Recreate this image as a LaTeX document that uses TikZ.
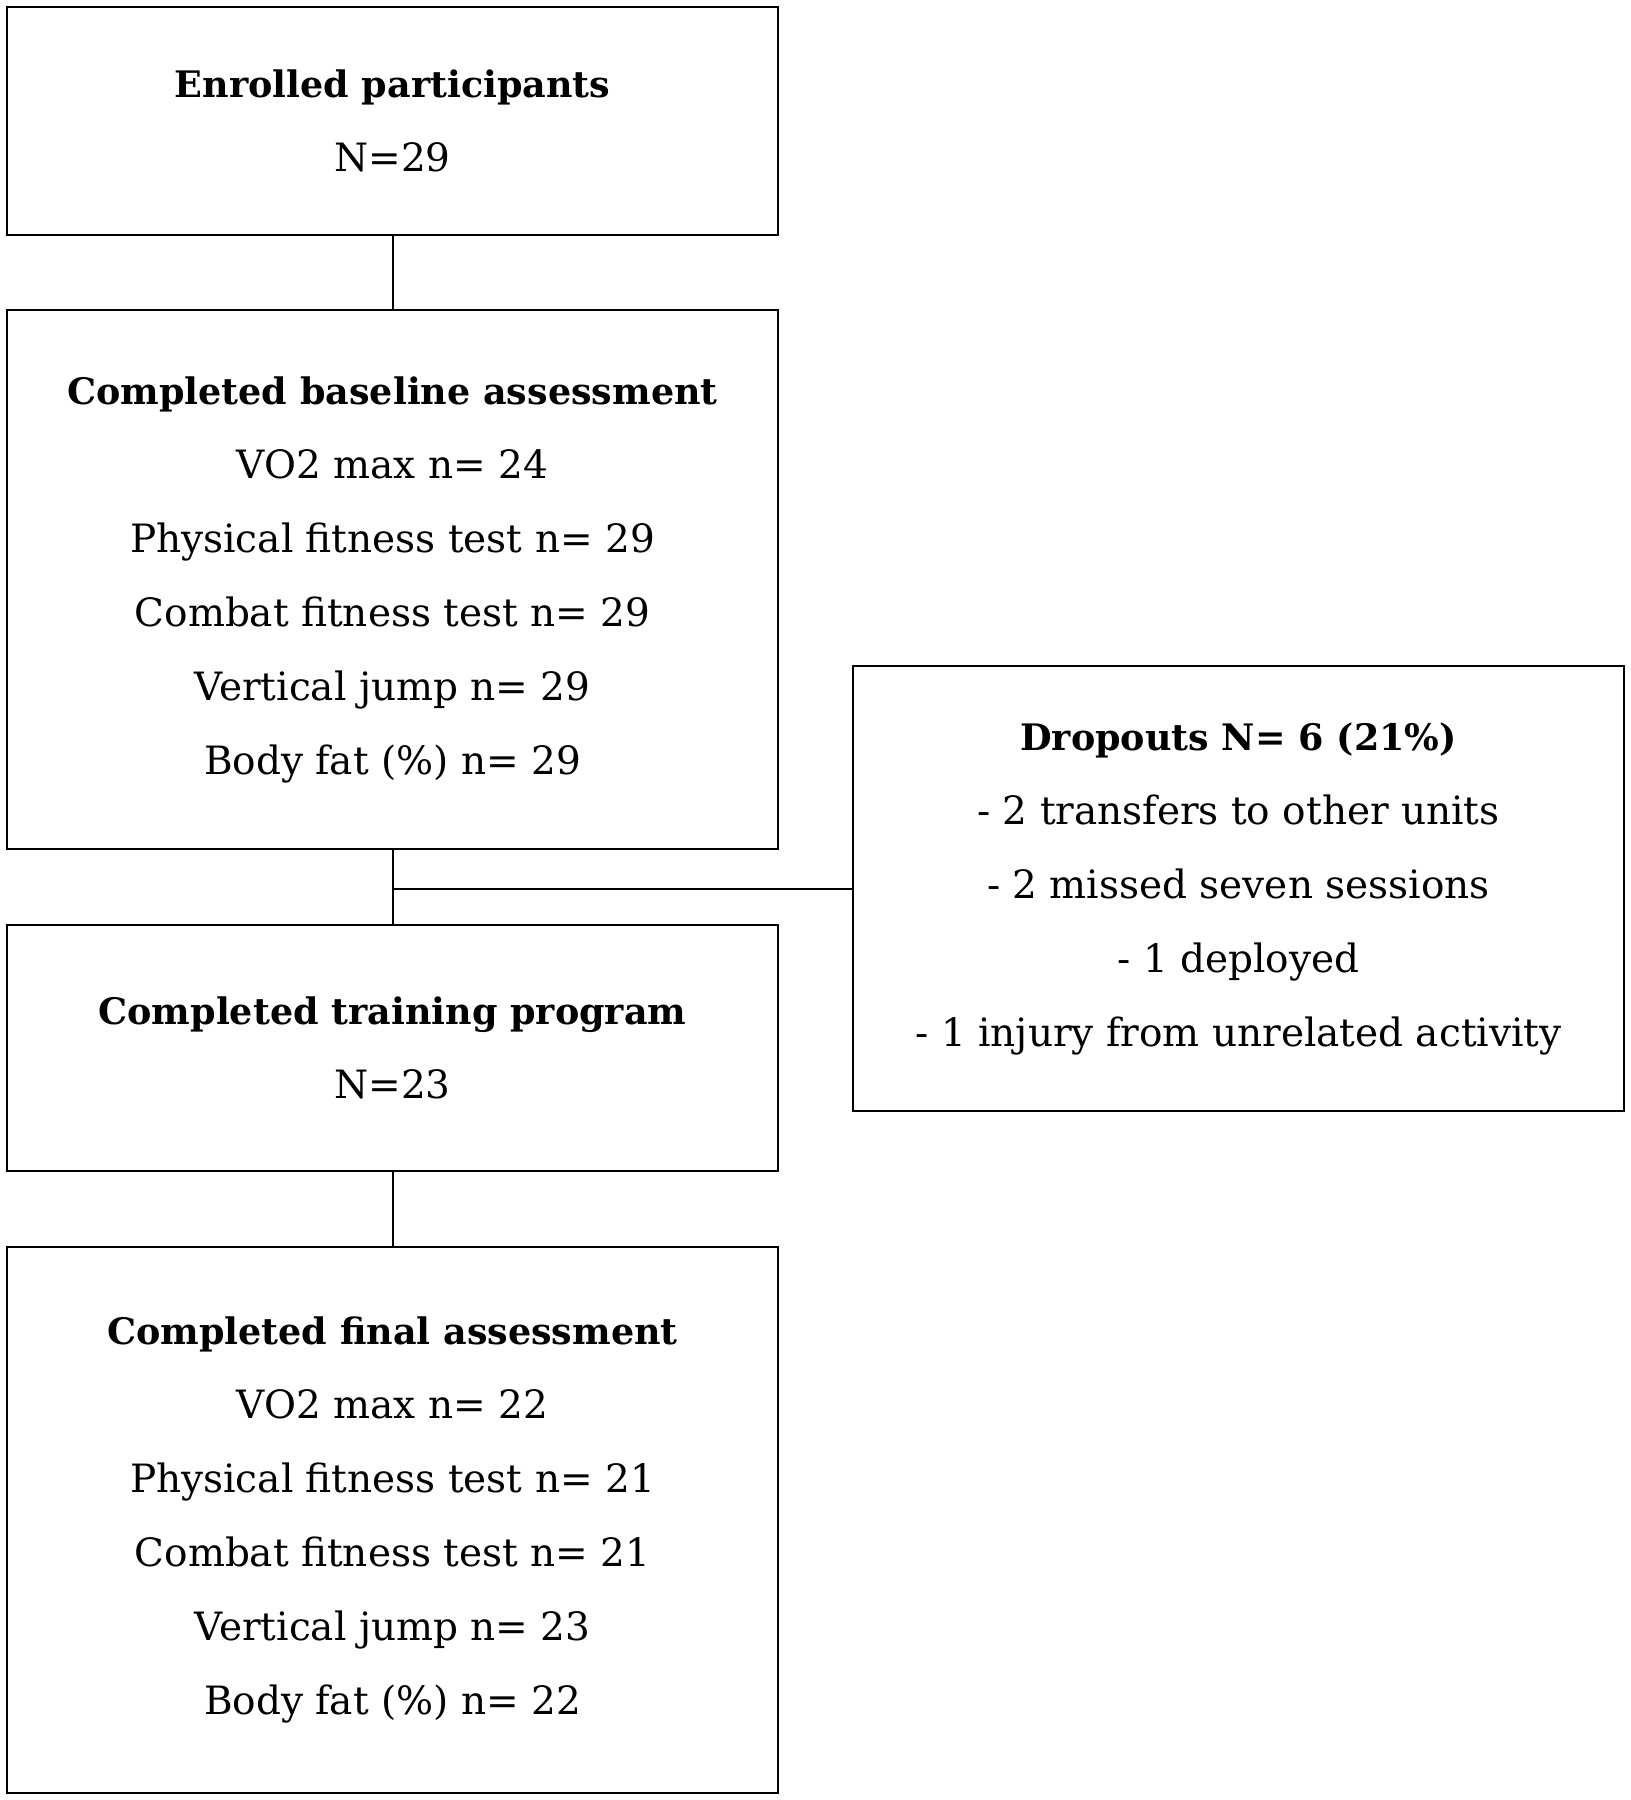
\documentclass[tikz,border=0pt]{standalone}
\usepackage{fontspec}
\setmainfont{DejaVu Serif}
\newcommand{\hd}[1]{{\fontsize{36.5}{74}\selectfont\bfseries #1}}
\begin{document}
\begin{tikzpicture}[x=1pt,y=-1pt,
  box/.style={draw, line width=2pt, minimum width=771pt, align=center, inner sep=0pt,
    font=\fontsize{39}{74}\selectfont},
  conn/.style={line width=2pt}]
\fill[white] (0,0) rectangle (1631,1800);
\useasboundingbox (0,0) rectangle (1631,1800);
\node[box, minimum height=228pt] (b1) at (392.5,121) {\hd{Enrolled participants}\\N=29};
\node[box, minimum height=539pt] (b2) at (392.5,579.5) {\hd{Completed baseline assessment}\\VO2 max n= 24\\Physical fitness test n= 29\\Combat fitness test n= 29\\Vertical jump n= 29\\Body fat (\%) n= 29};
\node[box, minimum height=246pt] (b3) at (392.5,1048) {\hd{Completed training program}\\N=23};
\node[box, minimum height=546pt] (b4) at (392.5,1520) {\hd{Completed final assessment}\\VO2 max n= 22\\Physical fitness test n= 21\\Combat fitness test n= 21\\Vertical jump n= 23\\Body fat (\%) n= 22};
\node[box, minimum height=445pt] (d) at (1238.5,888.5) {\hd{Dropouts N= 6 (21\%)}\\- 2 transfers to other units\\- 2 missed seven sessions\\- 1 deployed\\- 1 injury from unrelated activity};
\draw[conn] (b1.south) -- (b2.north);
\draw[conn] (b2.south) -- (b3.north);
\draw[conn] (b3.south) -- (b4.north);
\draw[conn] (d.west) -- (d.west -| b2.south);
\end{tikzpicture}
\end{document}
